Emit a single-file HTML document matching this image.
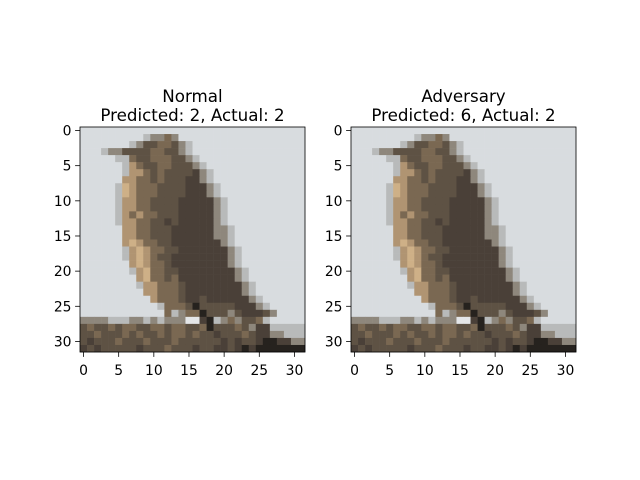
<!DOCTYPE html>
<html><head><meta charset="utf-8"><style>
body{margin:0;background:#fff}
svg{display:block;font-family:"DejaVu Sans","Liberation Sans",sans-serif}
</style></head><body>
<svg id="fig" width="640" height="480"></svg>
<script>
const rows=[
"................................",
".........gmmbm..................",
".......gmddbbdmg................",
"...gmmddddbbddmg................",
".....ggbddbbbddmg...............",
"......gtbddbbdddmg..............",
"......gttbdbddddDmg.............",
"......ttbbdbdddDDmg.............",
".....gTtbbbddddDDDmg............",
".....gTtbbbddddDDDmg............",
".....gttbbddddDDDDDmg...........",
".....gttbbddddDDDDDmg...........",
".....gtbtbbdddDDDDDmg...........",
".....gttbbddDdDDDDDmg...........",
"......ttbbdddDDDDDDmmg..........",
"......ttbbdddDDDDDDmmg..........",
"......tTtbbddDDDDDDDmg..........",
"......gtTtbbddDDDDDDDmg.........",
"......gtTtbddDDDDDDDDmg.........",
".......tTtbbdDDDDDDDDmg.........",
".......gtTbbddDDDDDDDDmg........",
"........tTbbdbDDDDDDDDmg........",
"........gttbbbdDDDDDDDDmg.......",
".........ttbbbdDDDDDDDDmg.......",
"..........tbbbdDDdDDDDDDmg......",
"...........gbbbdkdddddDDDmg.....",
"............bgmbbkdddmdDDDdm....",
"mmmmgggmmgmgmmmwwDkgmbmddbg.....",
"dbddbdbbddbbdbbddbkdddbdmDDggggg",
"ddbdddbdbddbdbbdbddDdddbdDDmmggg",
"dDdddbdddbdddbddddddDdDddDkkDDmm",
"DdDdddddDdddbdddDddDDdDkDkkkkkkk"];
const palette={'.':'#d8dcdf','g':'#b8baba','m':'#8e877c','b':'#7a6852','d':'#5e5244','D':'#4a4038','t':'#b09472','T':'#ceb087','k':'#26221e','w':'#e4e6e8'};
const tickVals=[0,5,10,15,20,25,30];
const titles=["Normal","Adversary"];
const predicted=[2,6];
const actual=[2,2];
const NS="http://www.w3.org/2000/svg";
const svg=document.getElementById('fig');
function mk(tag,attrs,parent){const e=document.createElementNS(NS,tag);for(const k in attrs)e.setAttribute(k,attrs[k]);(parent||svg).appendChild(e);return e;}
const lefts=[80,351], y0=127, size=225, n=32, px=size/n;
lefts.forEach((x0,i)=>{
  const g=mk('g',{});
  
  
  for(let r=0;r<n;r++)for(let c=0;c<n;c++){
    const ch=(rows[r]||'')[c]||'.';
    mk('rect',{x:x0+c*px,y:y0+r*px,width:px+0.3,height:px+0.3,fill:palette[ch]||palette['.']},g);
  }
  const fr=mk('rect',{x:x0,y:y0,width:size,height:size,fill:'none',stroke:'#000','stroke-width':0.8},g);
  
  
  tickVals.forEach(v=>{
    const cx=x0+(v+0.5)*px, cy=y0+(v+0.5)*px;
    mk('line',{x1:cx,y1:y0+size,x2:cx,y2:y0+size+4.9,stroke:'#000','stroke-width':0.8},g);
    const tx=mk('text',{x:cx,y:y0+size+23,'font-size':13.9,'text-anchor':'middle'},g);tx.textContent=v;
    
    
    mk('line',{x1:x0,y1:cy,x2:x0-4.9,y2:cy,stroke:'#000','stroke-width':0.8},g);
    const ty=mk('text',{x:x0-8.5,y:cy+5,'font-size':13.9,'text-anchor':'end'},g);ty.textContent=v;
    
    
  });
  const t1=mk('text',{x:x0+size/2,y:102,'font-size':16.7,'text-anchor':'middle'},g);t1.textContent=titles[i];
  
  
  const t2=mk('text',{x:x0+size/2,y:121,'font-size':16.7,'text-anchor':'middle'},g);
  t2.textContent='Predicted: '+predicted[i]+', Actual: '+actual[i];
  
  
});
</script>
</body></html>
